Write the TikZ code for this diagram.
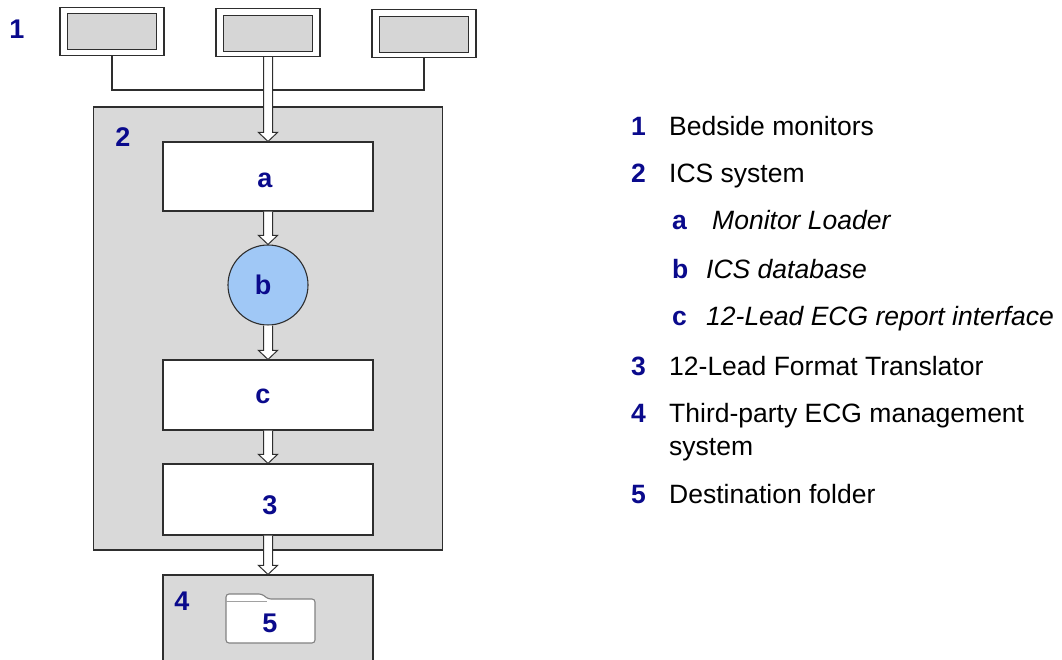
\documentclass[tikz,border=0pt]{standalone}
\usepackage{fontspec}
\setmainfont{Liberation Sans}
\usetikzlibrary{calc}
\definecolor{navy}{HTML}{0A0A8C}
\definecolor{boxgray}{HTML}{D9D9D9}
\definecolor{scrgray}{HTML}{D6D6D6}
\definecolor{edge}{HTML}{2E2E2E}
\definecolor{dbblue}{HTML}{A0C8F6}
\begin{document}
\begin{tikzpicture}[x=1pt,y=-1pt,
  lbl/.style={text=navy,font=\fontsize{27}{30}\selectfont\bfseries,inner sep=0pt},
  leg/.style={anchor=base west,font=\fontsize{26.5}{30}\selectfont,inner sep=0pt},
  legnum/.style={anchor=base west,text=navy,font=\fontsize{26.5}{30}\selectfont\bfseries,inner sep=0pt},
  legit/.style={anchor=base west,font=\fontsize{26.5}{30}\selectfont\itshape,inner sep=0pt},
  monout/.style={draw=edge,line width=1.1pt,fill=white,minimum width=104pt,minimum height=48pt,inner sep=0pt},
  monin/.style={draw=edge,line width=1.1pt,fill=scrgray,minimum width=89pt,minimum height=36pt,inner sep=0pt},
  whitebox/.style={draw=edge,line width=1.1pt,fill=white,minimum width=210pt,inner sep=0pt},
  graybox/.style={draw=edge,line width=1.1pt,fill=boxgray,inner sep=0pt},
  conn/.style={draw=edge,line width=1.1pt},
  hollow/.style={draw=edge,line width=1pt,fill=white,
    to path={let \p1=(\tikztostart), \p2=(\tikztotarget) in
      (\x1-4.5pt,\y1) -- (\x1-4.5pt,\y2+9pt) -- (\x1-9.5pt,\y2+9pt) -- (\x1,\y2) -- (\x1+9.5pt,\y2+9pt) -- (\x1+4.5pt,\y2+9pt) -- (\x1+4.5pt,\y1)}}
]
\useasboundingbox (0,0) rectangle (1062,660);

% bedside monitors
\node[lbl] (n1) at (17,29) {1};
\node[monout] (m1) at (112,31.5) {};
\node[monin] (m1i) at (112,31.5) {};
\node[monout] (m2) at (268,32.5) {};
\node[monin] (m2i) at (268,33.5) {};
\node[monout] (m3) at (424,33.5) {};
\node[monin] (m3i) at (424,34.5) {};

% ICS system
\node[graybox,minimum width=349pt,minimum height=443pt] (ics) at (268,328.5) {};
\node[lbl] (n2) at (123,137) {2};
\node[whitebox,minimum height=69pt] (a) at (268,176.5) {};
\node[lbl] (na) at (265,180) {a};
\node[circle,draw=edge,line width=1.1pt,fill=dbblue,minimum size=80pt,inner sep=0pt] (b) at (268,285) {};
\node[lbl] (nb) at (263,285) {b};
\node[whitebox,minimum height=70pt] (c) at (268,395) {};
\node[lbl] (nc) at (263,396) {c};
\node[whitebox,minimum height=71pt] (t3) at (268,499.5) {};
\node[lbl] (n3) at (270,505) {3};

% third-party system
\node[graybox,minimum width=210pt,minimum height=110pt] (sys4) at (268,630) {};
\node[lbl] (n4) at (182,601) {4};
\path[draw=edge!60,line width=1.1pt,fill=white,rounded corners=3pt]
  (226,643) -- (226,594) -- (262,594) -- (268,599) -- (315,599) -- (315,643) -- cycle;
\draw[edge!45,line width=0.8pt] (226,601) -- (267,601);
\node[lbl] (n5) at (270,623) {5};

% connectors
\coordinate (j) at (268,90);
\draw[conn] (m1.south) |- (j) -| (m3.south);
\draw[hollow] (m2.south) to (a.north);
\draw[hollow] (a.south) to (b.north);
\draw[hollow] (b.south) to (c.north);
\draw[hollow] (c.south) to (t3.north);
\draw[hollow] (t3.south) to (sys4.north);

% legend
\node[legnum] (l1) at (631,136) {1};
\node[leg] (l1t) at (669,136) {Bedside monitors};
\node[legnum] (l2) at (631,183) {2};
\node[leg] (l2t) at (669,183) {ICS system};
\node[legnum] (la) at (672,230) {a};
\node[legit] (lat) at (712,230) {Monitor Loader};
\node[legnum] (lb) at (672,278) {b};
\node[legit] (lbt) at (706,278) {ICS database};
\node[legnum] (lc) at (672,325) {c};
\node[legit] (lct) at (706,325) {12-Lead ECG report interface};
\node[legnum] (l3) at (631,375) {3};
\node[leg] (l3t) at (669,375) {12-Lead Format Translator};
\node[legnum] (l4) at (631,422) {4};
\node[leg] (l4t) at (669,422) {Third-party ECG management};
\node[leg] (l4u) at (669,455) {system};
\node[legnum] (l5) at (631,503) {5};
\node[leg] (l5t) at (669,503) {Destination folder};
\end{tikzpicture}
\end{document}
